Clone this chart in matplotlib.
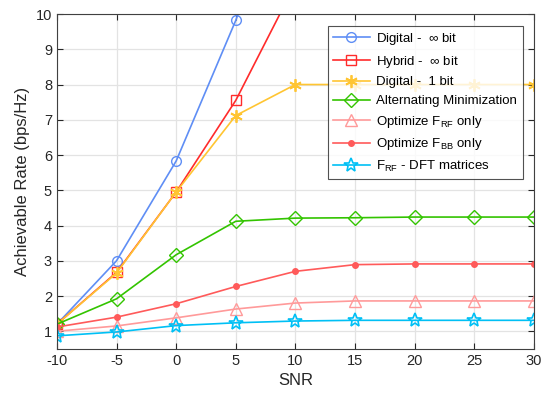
import numpy as np
from matplotlib import pyplot as plt

snr = [-10, -5, 0, 5, 10, 15, 20, 25, 30]

digital_inf = [1.2, 3.0, 5.83, 9.82, 14.5]
hybrid_inf = [1.2, 2.67, 4.95, 7.55, 10.86]
digital_1bit = [1.2, 2.65, 4.95, 7.12, 8.0, 8.0, 8.0, 8.0, 8.0]
alt_min = [1.2, 1.92, 3.17, 4.12, 4.21, 4.22, 4.24, 4.24, 4.24]
opt_rf = [1.0, 1.15, 1.38, 1.63, 1.8, 1.86, 1.86, 1.86, 1.86]
opt_bb = [1.12, 1.4, 1.78, 2.27, 2.7, 2.89, 2.91, 2.91, 2.91]
dft = [0.87, 0.98, 1.16, 1.24, 1.29, 1.31, 1.31, 1.31, 1.31]

labels = [r"Digital -  $\mathregular{\infty}$ bit",
          r"Hybrid -  $\mathregular{\infty}$ bit",
          "Digital -  1 bit",
          "Alternating Minimization",
          r"Optimize F$_{\mathregular{RF}}$ only",
          r"Optimize F$_{\mathregular{BB}}$ only",
          r"F$_{\mathregular{RF}}$ - DFT matrices"]

plt.rcParams['font.family'] = ['Liberation Sans', 'DejaVu Sans']
plt.rcParams['mathtext.fontset'] = 'custom'
plt.rcParams['mathtext.rm'] = 'Liberation Sans'
plt.rcParams['axes.unicode_minus'] = False

fig = plt.figure(figsize=(5.42, 4.01), dpi=100)
ax = fig.add_axes([0.105, 0.130, 0.880, 0.835])

ax.plot(snr[:len(digital_inf)], digital_inf, color='#5F8EF5', marker='o', ms=7, mfc='none', lw=1.2, label=labels[0])
ax.plot(snr[:len(hybrid_inf)], hybrid_inf, color='#FF2B2B', marker='s', ms=7, mfc='none', lw=1.2, label=labels[1])
ax.plot(snr, digital_1bit, color='#FFC532', marker=(6, 2, 0), ms=9, mew=1.3, lw=1.2, label=labels[2])
ax.plot(snr, alt_min, color='#33C400', marker='D', ms=7, mfc='none', lw=1.2, label=labels[3])
ax.plot(snr, opt_rf, color='#FF9A9A', marker='^', ms=8, mfc='none', lw=1.2, label=labels[4])
ax.plot(snr, opt_bb, color='#FF5A5A', marker='.', ms=8, lw=1.2, label=labels[5])
ax.plot(snr, dft, color='#00C0F5', marker='*', ms=10, mfc='none', mew=1.2, lw=1.2, label=labels[6])

ax.set_xlim(-10, 30)
ax.set_ylim(0.5, 10)
ax.set_xticks(snr)
ax.set_yticks(range(1, 11))
ax.grid(True, color='#E3E3E3', lw=0.9)
ax.set_axisbelow(True)
ax.tick_params(direction='in', top=True, right=True, labelsize=10.5, colors='#262626', length=4)
for s in ax.spines.values():
    s.set_color('#404040')
    s.set_linewidth(0.8)

ax.set_xlabel("SNR", fontsize=12, color='#262626')
ax.set_ylabel("Achievable Rate (bps/Hz)", fontsize=12, color='#262626')

leg = ax.legend(loc='upper right', bbox_to_anchor=(0.99, 0.985), fontsize=9.5, frameon=True,
                fancybox=False, edgecolor='#262626', handlelength=2.8, labelspacing=0.5,
                borderpad=0.4, handletextpad=0.5)
leg.get_frame().set_linewidth(0.8)

plt.savefig("out.png", dpi=100)
